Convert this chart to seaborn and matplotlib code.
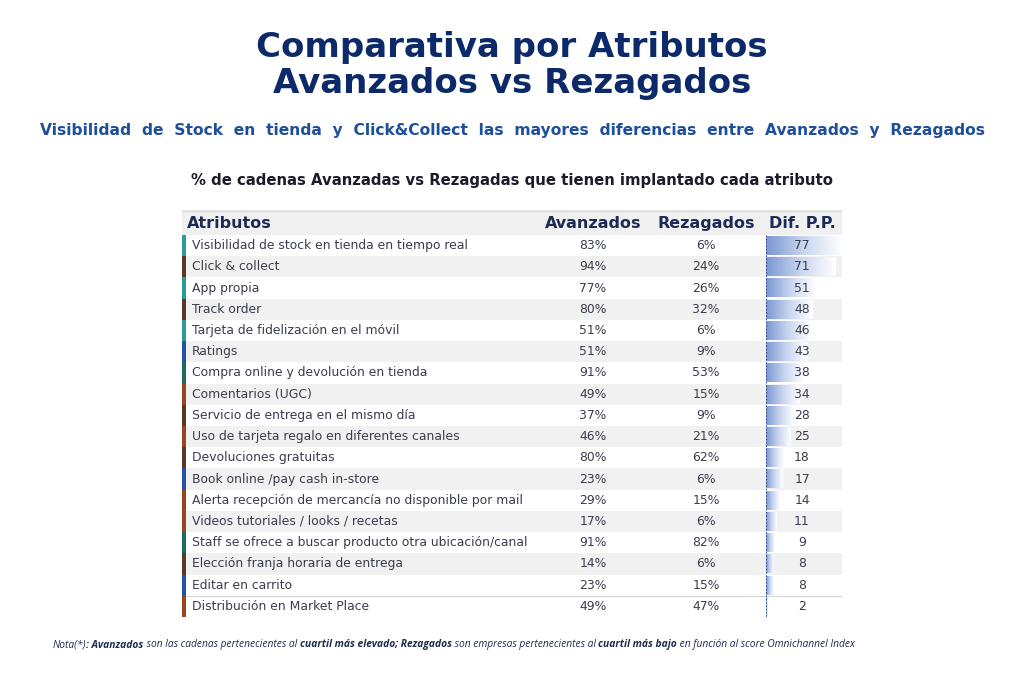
import matplotlib
matplotlib.use("Agg")
import matplotlib.pyplot as plt
import seaborn as sns
import numpy as np
import pandas as pd
from matplotlib.patches import Rectangle
from matplotlib.colors import LinearSegmentedColormap

# Datos de la tabla
atributos = [
    "Visibilidad de stock en tienda en tiempo real",
    "Click & collect",
    "App propia",
    "Track order",
    "Tarjeta de fidelización en el móvil",
    "Ratings",
    "Compra online y devolución en tienda",
    "Comentarios (UGC)",
    "Servicio de entrega en el mismo día",
    "Uso de tarjeta regalo en diferentes canales",
    "Devoluciones gratuitas",
    "Book online /pay cash in-store",
    "Alerta recepción de mercancía no disponible por mail",
    "Videos tutoriales / looks / recetas",
    "Staff se ofrece a buscar producto otra ubicación/canal",
    "Elección franja horaria de entrega",
    "Editar en carrito",
    "Distribución en Market Place",
]
avanzados = [83, 94, 77, 80, 51, 51, 91, 49, 37, 46, 80, 23, 29, 17, 91, 14, 23, 49]
rezagados = [6, 24, 26, 32, 6, 9, 53, 15, 9, 21, 62, 6, 15, 6, 82, 6, 15, 47]
dif_pp = [77, 71, 51, 48, 46, 43, 38, 34, 28, 25, 18, 17, 14, 11, 9, 8, 8, 2]
# Color de la marca lateral de cada fila
marcas = ["teal", "brown", "teal", "brown", "teal", "blue", "green", "rust", "brown",
          "rust", "brown", "blue", "rust", "rust", "green", "brown", "blue", "rust"]

COLORES_MARCA = {"teal": "#2b9a98", "brown": "#5b3825", "blue": "#2353a6",
                 "green": "#1d6b5a", "rust": "#9c4420"}
NAVY = "#0c2a6a"
TXT = "#3a3d4d"
W, H = 1024, 695

df = pd.DataFrame({"atributo": atributos, "dif": dif_pp})

sns.set_theme(style="white")
plt.rcParams["font.family"] = ["DejaVu Sans"]

fig = plt.figure(figsize=(W / 100, H / 100), dpi=100)

# Títulos
fig.text(0.5, 1 - 48 / H, "Comparativa por Atributos", ha="center", va="center",
         fontsize=24.5, fontweight="bold", color=NAVY)
fig.text(0.5, 1 - 83 / H, "Avanzados vs Rezagados", ha="center", va="center",
         fontsize=24.5, fontweight="bold", color=NAVY)
fig.text(0.5, 1 - 131 / H,
         "Visibilidad  de  Stock  en  tienda  y  Click&Collect  las  mayores  diferencias  entre  Avanzados  y  Rezagados",
         ha="center", va="center", fontsize=11.2, fontweight="bold", color="#1f4e9c")
fig.text(0.5, 1 - 180 / H,
         "% de cadenas Avanzadas vs Rezagadas que tienen implantado cada atributo",
         ha="center", va="center", fontsize=10.7, fontweight="bold", color="#1b1b2b")

# Tabla: ejes en "píxeles" relativos
tx0, tx1, ty0, ty1 = 182, 842, 210, 617
ax = fig.add_axes([tx0 / W, 1 - ty1 / H, (tx1 - tx0) / W, (ty1 - ty0) / H])
ax.set_xlim(0, tx1 - tx0)
ax.set_ylim(ty1 - ty0, 0)
ax.axis("off")

head_h = 25
n = len(atributos)
row_h = (ty1 - ty0 - head_h) / n

ax.add_patch(Rectangle((0, 0), tx1 - tx0, head_h, color="#f0f0f0", lw=0))
ax.plot([0, tx1 - tx0], [0.5, 0.5], color="#d8d8d8", lw=1)
ax.text(5, head_h / 2 + 1, "Atributos", ha="left", va="center", fontsize=11.5,
        fontweight="bold", color="#1c2b55")
col_av, col_rz, col_dif = 593 - tx0, 706 - tx0, 802 - tx0
for cx, lab in [(col_av, "Avanzados"), (col_rz, "Rezagados"), (col_dif, "Dif. P.P.")]:
    ax.text(cx, head_h / 2 + 1, lab, ha="center", va="center", fontsize=11.5,
            fontweight="bold", color="#1c2b55")

for i in range(n):
    y = head_h + i * row_h
    if i % 2 == 1 and i < n - 1:
        ax.add_patch(Rectangle((0, y), tx1 - tx0, row_h, color="#f1f1f1", lw=0))
    ax.add_patch(Rectangle((0, y), 4, row_h, color=COLORES_MARCA[marcas[i]], lw=0))
    yc = y + row_h / 2
    ax.text(10, yc, atributos[i], ha="left", va="center", fontsize=8.9, color=TXT)
    ax.text(col_av, yc, f"{avanzados[i]}%", ha="center", va="center", fontsize=8.9, color=TXT)
    ax.text(col_rz, yc, f"{rezagados[i]}%", ha="center", va="center", fontsize=8.9, color=TXT)
ax.plot([4, tx1 - tx0], [head_h + (n - 1) * row_h] * 2, color="#d4d4d4", lw=0.8)
ax.plot([4, tx1 - tx0], [ty1 - ty0 - 0.5] * 2, color="#e4e4e4", lw=0.8)
ax.plot([tx1 - tx0 - 0.5] * 2, [0, ty1 - ty0], color="#e0e0e0", lw=0.8)

# Barras de Dif. P.P. con degradado
bx0 = 766
bar_ax = fig.add_axes([bx0 / W, 1 - ty1 / H, (tx1 - bx0) / W, (ty1 - ty0 - head_h) / H])
bar_ax.patch.set_alpha(0)
sns.barplot(data=df, x="dif", y="atributo", orient="h", ax=bar_ax, width=0.88,
            color="#7d9ad4", saturation=1)
bar_ax.set_xlim(0, 78)
bar_ax.axis("off")
cmap = LinearSegmentedColormap.from_list("grad", ["#7a97d2", "#c9d6ef", "#ffffff"])
grad = np.linspace(0, 1, 256).reshape(1, -1)
for p in bar_ax.patches:
    x0, y0, w, h = p.get_x(), p.get_y(), p.get_width(), p.get_height()
    bar_ax.imshow(grad, cmap=cmap, aspect="auto", extent=[x0, x0 + w, y0 + h, y0],
                  zorder=2, interpolation="bilinear")
    p.set_visible(False)
bar_ax.set_ylim(n - 0.5, -0.5)
bar_ax.axvline(0, color="#2a3f7a", lw=1.2, ls=(0, (1, 1)), zorder=3)

# los números de Dif. P.P. por encima de las barras
num_ax = fig.add_axes(ax.get_position(), frameon=False)
num_ax.set_xlim(ax.get_xlim())
num_ax.set_ylim(ax.get_ylim())
num_ax.axis("off")
for i in range(n):
    yc = head_h + i * row_h + row_h / 2
    num_ax.text(col_dif, yc, str(dif_pp[i]), ha="center", va="center", fontsize=8.9,
                color=TXT)

# Nota al pie con partes en negrita
piezas = [
    ("Nota(*)", "normal"),
    (": Avanzados", "bold"),
    (" son las cadenas pertenecientes al ", "normal"),
    ("cuartil más elevado; Rezagados", "bold"),
    (" son empresas pertenecientes al ", "normal"),
    ("cuartil más bajo", "bold"),
    (" en función al score Omnichannel Index", "normal"),
]
fig.canvas.draw()
renderer = fig.canvas.get_renderer()
xpos = 53
for txt, peso in piezas:
    t = fig.text(xpos / W, 1 - 645 / H, txt, ha="left", va="center", fontsize=7.4,
                 fontstyle="italic", fontweight=peso, color="#1f2d4d",
                 family=["Open Sans", "DejaVu Sans"])
    bb = t.get_window_extent(renderer)
    xpos = bb.x1

fig.savefig("out.png", dpi=100)
